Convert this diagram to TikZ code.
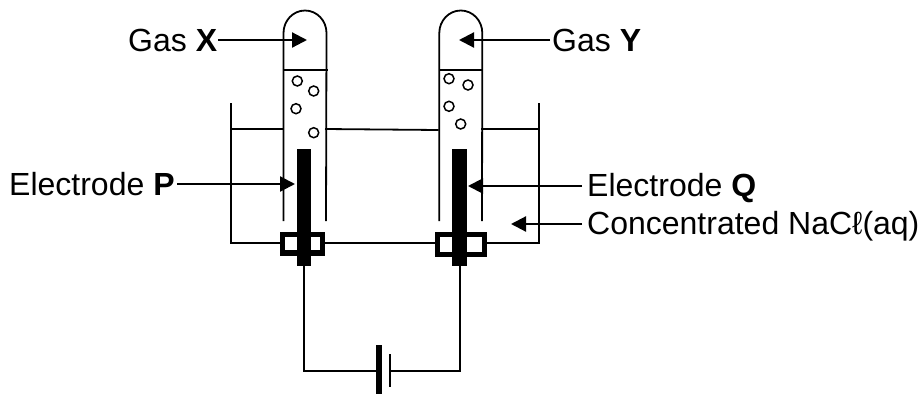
\documentclass[tikz,border=0pt]{standalone}
\usepackage{fontspec}
\setmainfont{Liberation Sans}
\usetikzlibrary{arrows.meta}
\tikzset{
  x=1pt,y=-1pt,
  lab/.style={anchor=base west,inner sep=0pt,font=\fontsize{32}{38}\selectfont},
  thin line/.style={line width=1.8pt,black},
  pointer/.style={line width=2.2pt,black,-{Triangle[length=15pt,width=15pt]}},
  bub/.style={circle,draw=black,line width=1.5pt,minimum size=10pt,inner sep=0pt},
  rod/.style={fill=black,draw=none},
  stopper/.style={draw=black,line width=5.5pt,fill=white},
}
\begin{document}
\begin{tikzpicture}
\useasboundingbox (0,0) rectangle (920,394);
% beaker
\coordinate (bTL) at (231,103);
\coordinate (bBL) at (231,243);
\coordinate (bBR) at (539,243);
\coordinate (bTR) at (539,103);
\draw[thin line] (bTL) -- (bBL) -- (bBR) -- (bTR);
% water level
\draw[thin line] (231,129) -- (283.5,129);
\draw[thin line] (325,129) -- (438.5,130);
\draw[thin line] (481,129) -- (539,129);
% tubes
\draw[thin line] (283.5,221) -- (283.5,33) arc[start angle=180,end angle=360,x radius=21.5,y radius=22.5] -- (326,221);
\draw[thin line] (439.3,221) -- (439.3,33) arc[start angle=180,end angle=360,x radius=21.5,y radius=22.5] -- (482,221);
\draw[thin line] (284,70) -- (328,70);
\draw[thin line] (440,70) -- (482,70);
% bubbles
\node[bub] (b1) at (297.3,81) {};
\node[bub] (b2) at (313.7,91) {};
\node[bub] (b3) at (296,108.7) {};
\node[bub] (b4) at (313.7,132.7) {};
\node[bub] (b5) at (449,78.7) {};
\node[bub] (b6) at (468,85) {};
\node[bub] (b7) at (449,106.3) {};
\node[bub] (b8) at (460.7,124) {};
% stoppers
\draw[stopper] (282.7,234.7) rectangle (322.6,253);
\draw[stopper] (437.4,234.7) rectangle (484.6,254.3);
% electrodes
\path[rod] (296.7,149) rectangle (311,266);
\path[rod] (452,149) rectangle (467,266);
\coordinate (eP) at (304,266);
\coordinate (eQ) at (460,266);
\coordinate (cL) at (304,371);
\coordinate (cR) at (460,371);
% battery
\path[rod] (376.3,345) rectangle (382.3,394);
\draw[thin line] (390.3,354) -- (390.3,387);
\coordinate (batL) at (376.3,371);
\coordinate (batR) at (390.3,371);
\draw[thin line] (eP) -- (cL) -- (batL);
\draw[thin line] (eQ) -- (cR) -- (batR);
% labels
\node[lab] (gx) at (128,51) {Gas \textbf{X}};
\node[lab] (gy) at (552,51) {Gas \textbf{Y}};
\node[lab] (ep) at (9,195) {Electrode \textbf{P}};
\node[lab] (eq) at (587,196) {Electrode \textbf{Q}};
\node[lab] (cn) at (587,234.5) {Concentrated NaCℓ(aq)};
% pointers
\coordinate (tx) at (307,40);
\coordinate (ty) at (459,40);
\coordinate (tp) at (295,184);
\coordinate (tq) at (468,186);
\coordinate (tc) at (511,224);
\coordinate (sx) at (218,40);
\coordinate (sy) at (550,40);
\coordinate (sp) at (177,184);
\coordinate (sq) at (582,186);
\coordinate (sc) at (582,224);
\draw[pointer] (sx) -- (tx);
\draw[pointer] (sy) -- (ty);
\draw[pointer] (sp) -- (tp);
\draw[pointer] (sq) -- (tq);
\draw[pointer] (sc) -- (tc);
\end{tikzpicture}
\end{document}
